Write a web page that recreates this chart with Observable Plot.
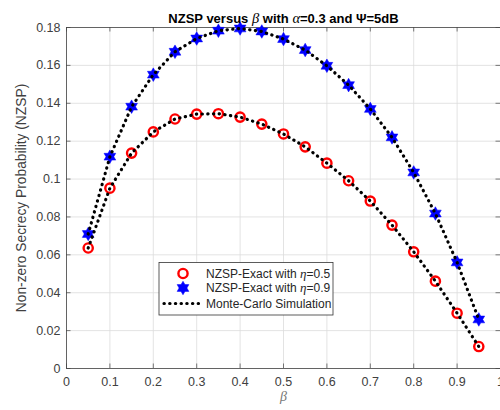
<!DOCTYPE html>
<html><head><meta charset="utf-8">
<script src="https://cdn.jsdelivr.net/npm/d3@7"></script>
<script src="https://cdn.jsdelivr.net/npm/@observablehq/plot@0.6"></script>
<style>body{margin:0;background:#fff;} svg{display:block;}</style>
</head><body><div id="chart"></div>
<script>
const beta = [0.05,0.1,0.15,0.2,0.25,0.3,0.35,0.4,0.45,0.5,0.55,0.6,0.65,0.7,0.75,0.8,0.85,0.9,0.95];
const nzspEta05 = [0.0636,0.0952,0.1137,0.1249,0.1317,0.1343,0.1345,0.1327,0.1290,0.1238,0.1170,0.1084,0.0991,0.0884,0.0757,0.0616,0.0461,0.0292,0.0116];
const nzspEta09 = [0.0710,0.1118,0.1382,0.1551,0.1672,0.1742,0.1783,0.1795,0.1779,0.1739,0.1681,0.1598,0.1496,0.1370,0.1220,0.1035,0.0818,0.0560,0.0259];
const xTicks = [0,0.1,0.2,0.3,0.4,0.5,0.6,0.7,0.8,0.9,1];
const yTicks = [0,0.02,0.04,0.06,0.08,0.1,0.12,0.14,0.16,0.18];
const titleParts = [["NZSP versus ",""],["β","i"],[" with ",""],["α","i"],["=0.3 and Ψ=5dB",""]];
const yLabel = "Non-zero Secrecy Probability (NZSP)";
const xLabel = "β";
const legendItems = ["NZSP-Exact with η=0.5","NZSP-Exact with η=0.9","Monte-Carlo Simulation"];

const W = 500, H = 410, mL = 66, mR = 0, mT = 27, mB = 42;
const frameH = H - mT - mB, frameW = W - mL - mR;
const tickLen = 4.5;
const textColor = "#404040";
const font = "Liberation Sans, Arial, sans-serif";
const dots = "0.3,5.4";
const lineStyle = {stroke: "#000", strokeWidth: 3.2, strokeDasharray: dots, strokeLinecap: "round"};

const hexagram = {
  draw(ctx, size) {
    const R = Math.sqrt(size / Math.PI), r = R / Math.sqrt(3);
    for (let i = 0; i < 12; i++) {
      const a = Math.PI / 6 * i - Math.PI / 2;
      const rad = i % 2 === 0 ? R : r;
      const px = rad * Math.cos(a), py = rad * Math.sin(a);
      i ? ctx.lineTo(px, py) : ctx.moveTo(px, py);
    }
    ctx.closePath();
  }
};

const s05 = beta.map((b, i) => ({beta: b, v: nzspEta05[i]}));
const s09 = beta.map((b, i) => ({beta: b, v: nzspEta09[i]}));

const plot = Plot.plot({
  width: W, height: H,
  marginLeft: mL, marginRight: mR, marginTop: mT, marginBottom: mB,
  style: {fontFamily: font, background: "#fff"},
  x: {domain: [0, 1], ticks: xTicks},
  y: {domain: [0, 0.18], ticks: yTicks},
  marks: [
    Plot.gridX(xTicks, {stroke: "#dcdcdc", strokeOpacity: 1, strokeWidth: 0.8}),
    Plot.gridY(yTicks, {stroke: "#dcdcdc", strokeOpacity: 1, strokeWidth: 0.8}),
    Plot.tickX(xTicks, {x: d => d, insetTop: frameH - tickLen, stroke: "#444", strokeWidth: 0.7}),
    Plot.tickX(xTicks, {x: d => d, insetBottom: frameH - tickLen, stroke: "#444", strokeWidth: 0.7}),
    Plot.tickY(yTicks, {y: d => d, insetRight: frameW - tickLen, stroke: "#444", strokeWidth: 0.7}),
    Plot.tickY(yTicks, {y: d => d, insetLeft: frameW - tickLen, stroke: "#444", strokeWidth: 0.7}),
    Plot.frame({stroke: "#444", strokeWidth: 0.8}),
    Plot.axisX(xTicks, {tickSize: 0, tickPadding: 9, fontSize: 12.5, fill: textColor, tickFormat: d => String(+d.toFixed(2)), label: null}),
    Plot.axisY(yTicks, {tickSize: 0, tickPadding: 6, fontSize: 12.5, fill: textColor, tickFormat: d => String(+d.toFixed(2)), label: null}),
    Plot.dot(s05, {x: "beta", y: "v", r: 4.6, stroke: "#ff0000", strokeWidth: 2.4, fill: "none"}),
    Plot.dot(s09, {x: "beta", y: "v", r: 6.8, symbol: hexagram, fill: "#0000ff", stroke: "#0000ff", strokeWidth: 0.5}),
    Plot.line(s05, {x: "beta", y: "v", ...lineStyle}),
    Plot.line(s09, {x: "beta", y: "v", ...lineStyle}),
    Plot.text([yLabel], {frameAnchor: "left", textAnchor: "middle", rotate: -90, dx: -45, fontSize: 13.8, fill: textColor}),
    Plot.text([xLabel], {frameAnchor: "bottom", textAnchor: "middle", dy: 32, fontSize: 14, fontStyle: "italic", fontFamily: "Liberation Serif, serif", fill: "#777"}),
    Plot.text(["title"], {frameAnchor: "top", textAnchor: "middle", dy: -14, fontSize: 13, fontWeight: "bold", fill: "#000", className: "ttl"})
  ]
});
document.getElementById("chart").appendChild(plot);

// rich title with italic Greek letters
const svg = d3.select(plot);
const ttl = svg.select(".ttl text");
ttl.text(null);
titleParts.forEach(([t, st]) => {
  const ts = ttl.append("tspan").text(t);
  if (st === "i") ts.attr("font-style", "italic").attr("font-family", "Liberation Serif, serif").attr("font-weight", "normal").attr("font-size", 14.5);
});

// legend
const lg = svg.append("g").attr("font-family", font).attr("font-size", 12).attr("text-anchor", "start");
const lx = 159, ly = 262.5, lw = 174, lh = 52.5;
lg.append("rect").attr("x", lx).attr("y", ly).attr("width", lw).attr("height", lh)
  .attr("fill", "#fff").attr("stroke", "#333").attr("stroke-width", 0.8);
const rows = [ly + 11, ly + 25.5, ly + 41];
const mx = 183;
lg.append("circle").attr("cx", mx).attr("cy", rows[0]).attr("r", 4.6).attr("fill", "none").attr("stroke", "#ff0000").attr("stroke-width", 2.4);
const hp = d3.path(); hexagram.draw(hp, 6.8 * 6.8 * Math.PI);
lg.append("path").attr("d", hp.toString()).attr("transform", `translate(${mx},${rows[1]})`).attr("fill", "#0000ff").attr("stroke", "#0000ff").attr("stroke-width", 0.5);
lg.append("line").attr("x1", 164).attr("x2", 203).attr("y1", rows[2]).attr("y2", rows[2])
  .attr("stroke", "#000").attr("stroke-width", 3.2).attr("stroke-dasharray", dots).attr("stroke-linecap", "round");
legendItems.forEach((t, i) => {
  const tx = lg.append("text").attr("x", 206).attr("y", rows[i]).attr("dy", "0.35em").attr("fill", "#262626");
  const m = t.match(/^(.*)(η)(.*)$/);
  if (m) {
    tx.append("tspan").text(m[1]);
    tx.append("tspan").text(m[2]).attr("font-style", "italic").attr("font-family", "Liberation Serif, serif").attr("font-size", 13);
    tx.append("tspan").text(m[3]);
  } else tx.text(t);
});
</script>
</body></html>
